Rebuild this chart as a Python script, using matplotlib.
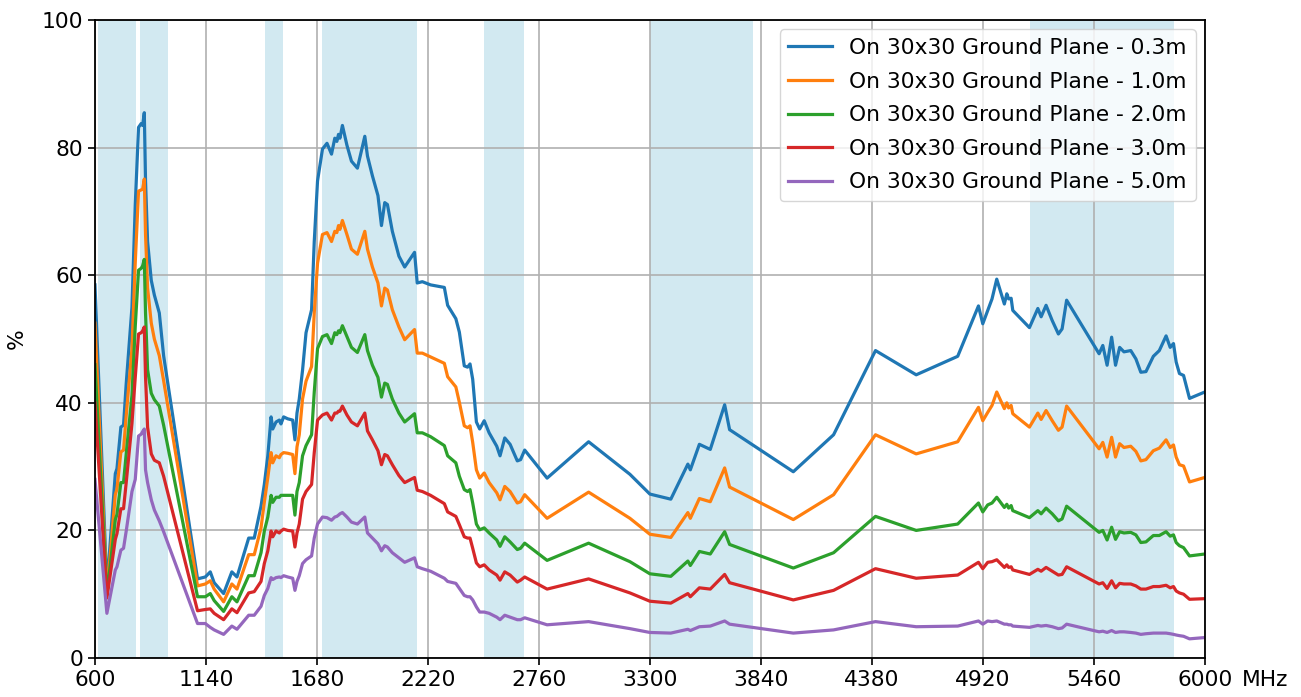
#!/usr/bin/env python3
"""
Efficiency vs frequency for an antenna on a 30x30 ground plane,
measured with different cable lengths.
"""

import matplotlib
matplotlib.use("Agg")
import matplotlib.pyplot as plt

freq_mhz = [
    600, 658, 699, 707, 726, 739, 752, 780, 796, 812, 825, 832, 840, 846, 856,
    874, 889, 913, 934, 1099, 1137, 1161, 1180, 1226, 1266, 1291, 1348, 1375,
    1408, 1424, 1441, 1457, 1465, 1481, 1497, 1505, 1518, 1538, 1562, 1573,
    1583, 1594, 1610, 1627, 1654, 1667, 1683, 1707, 1729, 1751, 1767, 1777,
    1785, 1792, 1804, 1826, 1848, 1877, 1913, 1926, 1950, 1977, 1994, 2010,
    2023, 2047, 2079, 2107, 2155, 2168, 2193, 2233, 2300, 2316, 2356, 2373,
    2397, 2413, 2425, 2438, 2456, 2472, 2494, 2518, 2555, 2571, 2594, 2620,
    2655, 2671, 2691, 2800, 3002, 3203, 3300, 3402, 3485, 3497, 3541, 3594,
    3664, 3688, 3998, 4194, 4398, 4596, 4798, 4899, 4920, 4944, 4965, 4988,
    5025, 5037, 5046, 5058, 5066, 5147, 5188, 5204, 5228, 5258, 5288, 5306,
    5328, 5486, 5504, 5525, 5547, 5566, 5586, 5607, 5640, 5665, 5689, 5714,
    5750, 5779, 5812, 5832, 5848, 5861, 5877, 5897, 5926, 6000,
]

eff_03m = [
    58.5, 11.0, 28.9, 29.7, 36.2, 36.5, 43.0, 55.0, 71.0, 83.2, 83.8, 83.5, 85.5, 74.8, 65.3,
    59.2, 56.9, 54.1, 47.4, 12.4, 12.7, 13.5, 11.8, 10.1, 13.5, 12.7, 18.8, 18.8,
    23.8, 27.2, 31.7, 37.8, 35.9, 37.0, 37.3, 36.7, 37.8, 37.5, 37.3, 34.2,
    38.4, 40.6, 45.1, 51.0, 54.6, 65.3, 74.8, 79.8, 80.7, 79.0, 81.5, 81.0,
    82.1, 81.5, 83.5, 80.4, 77.9, 76.8, 81.8, 78.7, 75.6, 72.5, 67.8, 71.4,
    71.1, 66.9, 63.0, 61.3, 63.6, 58.8, 59.0, 58.5, 58.1, 55.3, 53.2, 51.1,
    45.8, 45.6, 46.1, 43.7, 37.0, 35.9, 37.2, 35.3, 33.2, 31.7, 34.5, 33.5,
    30.9, 31.1, 32.6, 28.2, 33.9, 28.8, 25.7, 24.9, 30.4, 29.5, 33.5, 32.7,
    39.7, 35.8, 29.2, 35.0, 48.2, 44.4, 47.3, 55.2, 52.4, 54.5, 56.3, 59.4,
    55.5, 57.1, 56.3, 56.4, 54.5, 51.8, 54.8, 53.5, 55.3, 52.9, 50.8, 51.6,
    56.1, 47.7, 49.0, 45.9, 50.3, 45.9, 48.7, 48.0, 48.2, 46.9, 44.8, 44.9,
    47.3, 48.2, 50.5, 48.7, 49.3, 46.4, 44.6, 44.3, 40.7, 41.7,
]

eff_10m = [
    52.5, 10.0, 25.6, 26.5, 32.3, 32.6, 38.0, 48.5, 62.0, 73.2, 73.4, 73.5, 75.1, 66.4, 58.0,
    52.5, 50.0, 47.4, 43.5, 11.3, 11.6, 12.1, 10.8, 8.8, 11.6, 10.8, 16.2, 16.2,
    20.4, 24.4, 28.3, 32.2, 30.6, 31.7, 31.4, 31.9, 32.2, 32.1, 31.9, 28.9,
    33.1, 35.0, 40.6, 43.4, 45.7, 54.1, 61.9, 66.4, 66.7, 65.3, 66.9, 66.7,
    67.8, 67.2, 68.6, 66.4, 64.1, 63.3, 66.9, 64.1, 61.3, 58.8, 55.2, 58.0,
    57.7, 54.6, 51.9, 49.9, 51.5, 47.8, 47.8, 47.2, 46.2, 44.1, 42.5, 40.1,
    36.4, 36.1, 36.4, 33.8, 29.5, 28.2, 29.0, 27.5, 25.9, 24.8, 26.9, 26.1,
    24.3, 24.5, 25.6, 21.9, 26.0, 21.9, 19.4, 18.9, 22.8, 21.9, 25.0, 24.5,
    29.8, 26.8, 21.7, 25.6, 35.0, 32.0, 33.9, 39.3, 37.2, 38.5, 39.6, 41.7,
    39.1, 40.0, 39.2, 39.6, 38.3, 36.2, 38.4, 37.4, 38.8, 37.2, 35.7, 36.2,
    39.5, 32.8, 33.8, 31.5, 34.6, 31.5, 33.6, 33.0, 33.2, 32.4, 30.9, 31.1,
    32.5, 32.9, 34.2, 33.0, 33.4, 31.5, 30.3, 30.1, 27.6, 28.3,
]

eff_20m = [
    46.0, 9.8, 21.7, 22.5, 27.5, 27.5, 32.0, 41.2, 52.0, 60.8, 61.1, 61.5, 62.5, 54.1, 45.2,
    41.5, 40.5, 39.5, 36.5, 9.6, 9.6, 10.1, 9.0, 7.3, 9.6, 8.8, 12.9, 12.9,
    16.5, 19.9, 22.1, 25.5, 24.4, 25.2, 25.2, 25.5, 25.5, 25.5, 25.5, 22.4,
    26.1, 27.5, 31.7, 33.3, 35.0, 41.7, 48.5, 50.4, 50.7, 49.3, 51.0, 50.7,
    51.3, 51.0, 52.1, 50.4, 48.7, 47.9, 50.7, 48.2, 45.9, 44.0, 40.9, 43.1,
    42.9, 40.6, 38.4, 37.0, 38.3, 35.3, 35.3, 34.7, 33.3, 31.7, 30.6, 28.5,
    26.4, 26.1, 26.4, 24.3, 21.0, 20.1, 20.4, 19.6, 18.5, 17.5, 19.0, 18.2,
    17.0, 17.2, 18.0, 15.3, 18.0, 15.1, 13.2, 12.8, 15.2, 14.5, 16.7, 16.3,
    19.8, 17.8, 14.1, 16.5, 22.2, 20.0, 21.0, 24.3, 22.9, 24.0, 24.3, 25.2,
    23.6, 24.1, 23.5, 23.9, 23.1, 22.0, 23.1, 22.6, 23.5, 22.6, 21.5, 21.8,
    23.8, 19.7, 20.0, 18.5, 20.5, 18.6, 19.8, 19.6, 19.7, 19.3, 18.1, 18.2,
    19.2, 19.2, 19.8, 19.1, 19.3, 18.1, 17.6, 17.3, 16.0, 16.3,
]

eff_30m = [
    40.0, 9.4, 18.6, 19.5, 23.4, 23.4, 27.5, 36.8, 44.0, 50.8, 51.0, 51.3, 51.9, 44.1, 36.2,
    32.0, 31.0, 30.6, 28.5, 7.4, 7.6, 7.7, 7.0, 6.0, 7.7, 7.1, 10.2, 10.4,
    12.0, 14.8, 16.8, 19.9, 19.0, 19.9, 19.6, 19.9, 20.2, 20.0, 19.9, 17.4,
    19.6, 21.0, 24.9, 26.1, 27.2, 32.2, 37.3, 38.1, 38.4, 37.3, 38.4, 38.4,
    38.7, 38.7, 39.5, 38.1, 37.0, 36.4, 38.4, 35.6, 34.2, 32.5, 30.3, 31.9,
    31.7, 30.3, 28.6, 27.5, 28.3, 26.3, 26.1, 25.5, 24.2, 22.9, 22.2, 20.9,
    19.0, 18.8, 18.8, 17.2, 14.9, 14.3, 14.6, 13.8, 13.0, 12.2, 13.5, 13.0,
    11.9, 12.2, 12.7, 10.8, 12.4, 10.2, 8.9, 8.6, 10.1, 9.6, 11.0, 10.8,
    13.1, 11.8, 9.1, 10.6, 14.0, 12.5, 13.0, 15.0, 14.0, 15.0, 15.1, 15.4,
    14.2, 14.6, 14.2, 14.3, 13.8, 13.1, 13.9, 13.6, 14.2, 13.6, 13.0, 13.1,
    14.3, 11.6, 11.8, 10.9, 12.1, 11.0, 11.7, 11.6, 11.6, 11.3, 10.8, 10.8,
    11.2, 11.2, 11.4, 11.0, 11.2, 10.5, 10.2, 10.0, 9.2, 9.3,
]

eff_50m = [
    28.0, 7.0, 13.8, 14.3, 16.9, 17.2, 19.9, 26.1, 28.0, 34.8, 35.1, 35.5, 35.9, 29.5, 27.5,
    24.8, 23.2, 21.5, 19.8, 5.4, 5.4, 4.8, 4.4, 3.7, 5.0, 4.5, 6.7, 6.7,
    8.1, 9.8, 10.9, 12.6, 12.3, 12.6, 12.7, 12.6, 12.9, 12.7, 12.5, 10.6,
    12.0, 12.9, 14.8, 15.4, 16.0, 18.8, 21.0, 22.1, 22.0, 21.6, 22.1, 22.2,
    22.4, 22.6, 22.8, 22.1, 21.3, 21.0, 22.1, 19.6, 18.8, 17.9, 16.8, 17.6,
    17.4, 16.5, 15.7, 15.0, 15.7, 14.3, 14.0, 13.6, 12.5, 12.0, 11.7, 10.9,
    9.8, 9.6, 9.6, 9.1, 8.0, 7.2, 7.2, 7.0, 6.4, 6.0, 6.7, 6.4,
    6.0, 6.0, 6.3, 5.2, 5.7, 4.6, 4.0, 3.9, 4.5, 4.3, 4.9, 5.0,
    5.8, 5.3, 3.9, 4.4, 5.7, 4.9, 5.0, 5.8, 5.3, 5.8, 5.7, 5.8,
    5.3, 5.3, 5.2, 5.2, 5.0, 4.8, 5.1, 5.0, 5.1, 4.9, 4.6, 4.7,
    5.3, 4.1, 4.2, 4.0, 4.3, 4.0, 4.1, 4.1, 4.0, 3.9, 3.7, 3.8,
    3.9, 3.9, 3.9, 3.8, 3.7, 3.6, 3.5, 3.4, 3.0, 3.2,
]

labels = [
    "On 30x30 Ground Plane - 0.3m",
    "On 30x30 Ground Plane - 1.0m",
    "On 30x30 Ground Plane - 2.0m",
    "On 30x30 Ground Plane - 3.0m",
    "On 30x30 Ground Plane - 5.0m",
]

# cellular bands to highlight (MHz)
bands = [
    (617, 800), (820, 955), (1427, 1517), (1706, 2166),
    (2492, 2690), (3300, 3800), (5150, 5850),
]

xticks = [600, 1140, 1680, 2220, 2760, 3300, 3840, 4380, 4920, 5460, 6000]
yticks = [0, 20, 40, 60, 80, 100]


def main():
    fs = 15.7
    fig = plt.figure(figsize=(13.01, 6.97), dpi=100)
    ax = fig.add_axes([0.073, 0.056, 0.853, 0.915])

    for lo, hi in bands:
        ax.axvspan(lo, hi, color="lightblue", alpha=0.55, lw=0)

    for vals, lab in zip([eff_03m, eff_10m, eff_20m, eff_30m, eff_50m], labels):
        ax.plot(freq_mhz, vals, lw=2.3, label=lab)

    ax.set_xlim(600, 6000)
    ax.set_ylim(0, 100)
    ax.set_xticks(xticks)
    ax.set_yticks(yticks)
    ax.tick_params(labelsize=fs, length=5, width=1.2)
    ax.set_ylabel("%", fontsize=fs, labelpad=11)
    for sp in ax.spines.values():
        sp.set_linewidth(1.3)

    # unit label next to the last tick
    ax.annotate("MHz", xy=(1, 0), xycoords="axes fraction",
                xytext=(26.5, -8.5), textcoords="offset points",
                ha="left", va="top", fontsize=fs)

    ax.grid(True, color="#b0b0b0", lw=1.2)
    ax.legend(loc="upper right", fontsize=fs, borderaxespad=0.42,
              labelspacing=0.62)

    fig.savefig("out.png", dpi=100)


if __name__ == "__main__":
    main()
